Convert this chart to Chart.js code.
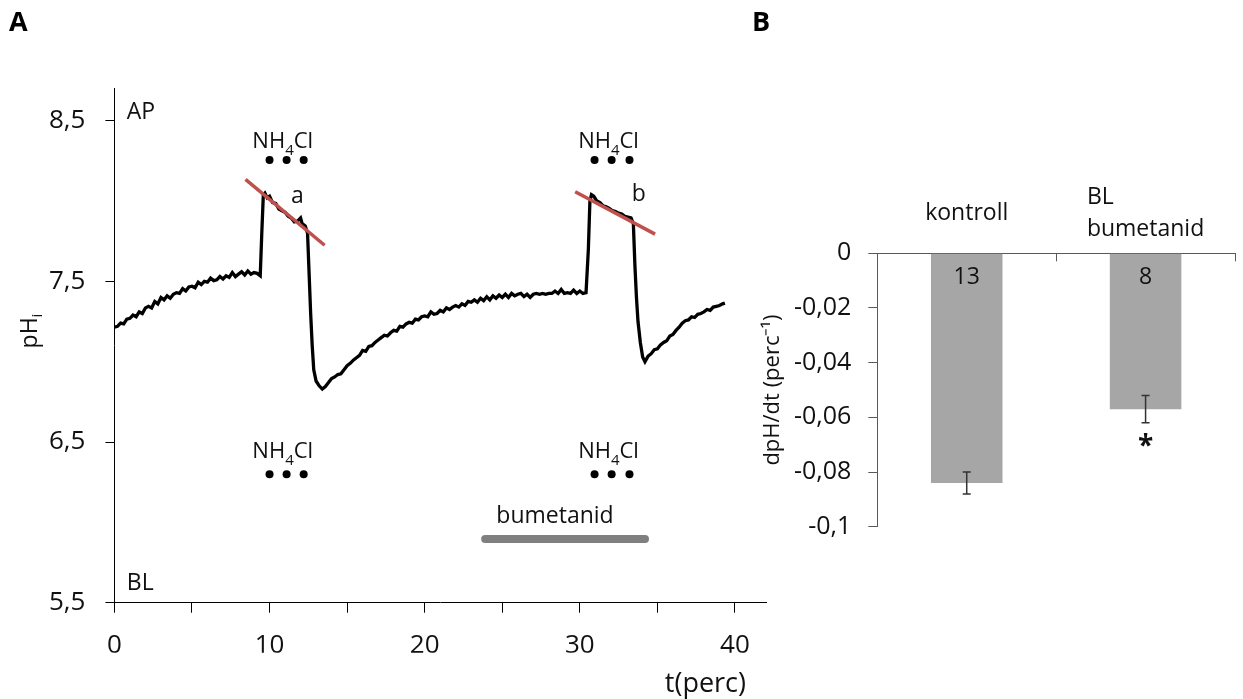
<!DOCTYPE html>
<html>
<head>
<meta charset="utf-8">
<script src="https://cdn.jsdelivr.net/npm/chart.js@4.4.1/dist/chart.umd.min.js"></script>
<style>
  body { margin: 0; background: #fff; }
  #wrap { position: relative; width: 1243px; height: 699px; overflow: hidden; }
  canvas { position: absolute; top: 0; }
  #phChart { left: 0; }
  #slopeChart { left: 740px; }
  .tag { position: absolute; top: 2px; font: bold 27px "Open Sans", sans-serif; color: #000; }
</style>
</head>
<body>
<div id="wrap">
  <canvas id="phChart" width="780" height="699"></canvas>
  <canvas id="slopeChart" width="503" height="699"></canvas>
  <div class="tag" style="left:9px">A</div>
  <div class="tag" style="left:752px">B</div>
</div>
<script>
// ---- panel A: intracellular pH trace ----
const traceT = [
  0, 0.2, 0.4, 0.6, 0.8, 1.0, 1.2, 1.4, 1.6, 1.8,
  2.0, 2.2, 2.4, 2.6, 2.8, 3.0, 3.2, 3.4, 3.6, 3.8,
  4.0, 4.2, 4.4, 4.6, 4.8, 5.0, 5.2, 5.4, 5.6, 5.8,
  6.0, 6.2, 6.4, 6.6, 6.8, 7.0, 7.2, 7.4, 7.6, 7.8,
  8.0, 8.2, 8.4, 8.6, 8.8, 9.0, 9.2, 9.4, 9.5, 9.6,
  9.7, 9.85, 10.0, 10.2, 10.4, 10.6, 10.8, 11.0, 11.2, 11.4,
  11.6, 11.8, 12.0, 12.1, 12.3, 12.45, 12.55, 12.65, 12.75, 12.85,
  13.0, 13.2, 13.4, 13.6, 13.8, 14.0, 14.2, 14.4, 14.6, 14.8,
  15.0, 15.2, 15.4, 15.6, 15.8, 16.0, 16.2, 16.4, 16.6, 16.8,
  17.0, 17.2, 17.4, 17.6, 17.8, 18.0, 18.2, 18.4, 18.6, 18.8,
  19.0, 19.2, 19.4, 19.6, 19.8, 20.0, 20.2, 20.4, 20.6, 20.8,
  21.0, 21.2, 21.4, 21.6, 21.8, 22.0, 22.2, 22.4, 22.6, 22.8,
  23.0, 23.2, 23.4, 23.6, 23.8, 24.0, 24.2, 24.4, 24.6, 24.8,
  25.0, 25.2, 25.4, 25.6, 25.8, 26.0, 26.2, 26.4, 26.6, 26.8,
  27.0, 27.2, 27.4, 27.6, 27.8, 28.0, 28.2, 28.4, 28.6, 28.8,
  29.0, 29.2, 29.4, 29.6, 29.8, 30.0, 30.2, 30.4, 30.55, 30.65,
  30.75, 30.9, 31.1, 31.3, 31.5, 31.7, 31.9, 32.1, 32.3, 32.5,
  32.7, 32.9, 33.1, 33.3, 33.45, 33.55, 33.65, 33.75, 33.9, 34.05,
  34.2, 34.4, 34.6, 34.8, 35.0, 35.2, 35.4, 35.6, 35.8, 36.0,
  36.2, 36.4, 36.6, 36.8, 37.0, 37.2, 37.4, 37.6, 37.8, 38.0,
  38.2, 38.4, 38.6, 38.8, 39.0, 39.2, 39.35
];
const tracePH = [
  7.215, 7.22, 7.24, 7.235, 7.265, 7.27, 7.29, 7.28, 7.31, 7.30,
  7.335, 7.345, 7.335, 7.375, 7.36, 7.40, 7.385, 7.41, 7.395, 7.42,
  7.43, 7.425, 7.455, 7.44, 7.465, 7.47, 7.46, 7.495, 7.48, 7.50,
  7.495, 7.52, 7.505, 7.51, 7.53, 7.515, 7.535, 7.525, 7.555, 7.53,
  7.545, 7.56, 7.54, 7.565, 7.545, 7.555, 7.55, 7.535, 7.80, 8.04,
  8.05, 8.02, 8.03, 7.99, 7.985, 7.95, 7.94, 7.93, 7.905, 7.895,
  7.87, 7.875, 7.895, 7.86, 7.845, 7.80, 7.55, 7.30, 7.10, 6.95,
  6.88, 6.85, 6.83, 6.845, 6.87, 6.895, 6.905, 6.92, 6.925, 6.95,
  6.975, 6.99, 7.01, 7.025, 7.04, 7.07, 7.065, 7.095, 7.10, 7.12,
  7.135, 7.15, 7.165, 7.16, 7.18, 7.195, 7.19, 7.22, 7.215, 7.235,
  7.245, 7.24, 7.265, 7.26, 7.28, 7.285, 7.28, 7.31, 7.295, 7.30,
  7.32, 7.31, 7.335, 7.325, 7.34, 7.35, 7.34, 7.36, 7.35, 7.375,
  7.37, 7.385, 7.37, 7.395, 7.38, 7.405, 7.385, 7.41, 7.395, 7.415,
  7.40, 7.42, 7.40, 7.425, 7.41, 7.42, 7.425, 7.405, 7.42, 7.40,
  7.42, 7.425, 7.42, 7.425, 7.42, 7.425, 7.425, 7.44, 7.425, 7.45,
  7.425, 7.43, 7.425, 7.445, 7.425, 7.44, 7.425, 7.43, 7.70, 8.00,
  8.04, 8.03, 8.00, 7.99, 7.97, 7.965, 7.955, 7.94, 7.935, 7.925,
  7.92, 7.905, 7.90, 7.895, 7.86, 7.60, 7.40, 7.25, 7.12, 7.03,
  7.00, 7.035, 7.05, 7.075, 7.08, 7.105, 7.12, 7.13, 7.16, 7.17,
  7.195, 7.215, 7.24, 7.255, 7.26, 7.28, 7.275, 7.295, 7.30, 7.31,
  7.325, 7.32, 7.34, 7.345, 7.35, 7.36, 7.365
];

// fitted recovery slopes a and b
const slopeAT = [8.45, 13.55];
const slopeAPH = [8.135, 7.725];
const slopeBT = [29.7, 34.85];
const slopeBPH = [8.058, 7.794];

// NH4Cl pulse markers (apical row, basolateral row)
const pulseT = [10.0, 11.1, 12.2, 30.95, 32.05, 33.2];
const pulseRowPH = [8.255, 6.30];

// bumetanide exposure
const bumetanidT = [23.9, 34.2];
const bumetanidPH = 5.897;

const phTicks = [5.5, 6.5, 7.5, 8.5];
const timeTicks = [0, 5, 10, 15, 20, 25, 30, 35, 40];

// ---- panel B: recovery rates ----
const groups = [['kontroll'], ['BL', 'bumetanid']];
const slopeMeans = [-0.084, -0.057];
const slopeSEM = [0.004, 0.005];
const cellCounts = ['13', '8'];
const significance = ['', '*'];
const rateTicks = [0, -0.02, -0.04, -0.06, -0.08, -0.1];

Chart.defaults.font.family = '"Open Sans", sans-serif';
Chart.defaults.color = '#111';
Chart.defaults.animation = false;

const FONT = '"Open Sans", sans-serif';
const pts = (xs, ys) => xs.map((x, i) => ({ x, y: Array.isArray(ys) ? ys[i] : ys }));
const comma = v => String(v).replace('.', ',');

// text labels placed in data units
const phLabels = [
  { text: 'AP', t: 0.8, ph: 8.55, align: 'left' },
  { text: 'BL', t: 0.8, ph: 5.62, align: 'left' },
  { text: 'a', t: 11.8, ph: 8.03, align: 'center' },
  { text: 'b', t: 33.8, ph: 8.04, align: 'center' },
  { text: 'bumetanid', t: 28.4, ph: 6.035, align: 'center' }
];
const chemLabels = [
  { t: 10.85, ph: 8.37 }, { t: 31.85, ph: 8.37 },
  { t: 10.85, ph: 6.44 }, { t: 31.85, ph: 6.44 }
];

function drawNH4Cl(ctx, cx, cy) {
  const big = '22px ' + FONT, small = '15px ' + FONT;
  ctx.font = big;
  const w1 = ctx.measureText('NH').width;
  const w3 = ctx.measureText('Cl').width;
  ctx.font = small;
  const w2 = ctx.measureText('4').width;
  let x = cx - (w1 + w2 + w3) / 2;
  ctx.textAlign = 'left';
  ctx.textBaseline = 'middle';
  ctx.font = big;
  ctx.fillText('NH', x, cy);
  x += w1;
  ctx.font = small;
  ctx.fillText('4', x, cy + 9);
  x += w2;
  ctx.font = big;
  ctx.fillText('Cl', x, cy);
}

const phText = {
  id: 'phText',
  afterDraw(chart) {
    const { ctx, scales: { x, y }, chartArea } = chart;
    ctx.save();
    ctx.fillStyle = '#111';
    ctx.font = '23px ' + FONT;
    ctx.textBaseline = 'middle';
    phLabels.forEach(l => {
      ctx.textAlign = l.align;
      ctx.fillText(l.text, x.getPixelForValue(l.t), y.getPixelForValue(l.ph));
    });
    chemLabels.forEach(l => drawNH4Cl(ctx, x.getPixelForValue(l.t), y.getPixelForValue(l.ph)));

    // axis titles
    ctx.font = '27px ' + FONT;
    ctx.textAlign = 'right';
    ctx.fillText('t(perc)', chartArea.right - 20, 684);

    ctx.translate(30, 331);
    ctx.rotate(-Math.PI / 2);
    ctx.textAlign = 'left';
    ctx.font = '23px ' + FONT;
    const wp = ctx.measureText('pH').width;
    ctx.font = '15px ' + FONT;
    const wi = ctx.measureText('i').width;
    ctx.font = '23px ' + FONT;
    ctx.fillText('pH', -(wp + wi) / 2, 0);
    ctx.font = '15px ' + FONT;
    ctx.fillText('i', -(wp + wi) / 2 + wp, 8);
    ctx.restore();
  }
};

new Chart(document.getElementById('phChart'), {
  type: 'scatter',
  data: {
    datasets: [
      { data: pts(slopeAT, slopeAPH), showLine: true, borderColor: '#c0504d', borderWidth: 3.5, pointRadius: 0 },
      { data: pts(slopeBT, slopeBPH), showLine: true, borderColor: '#c0504d', borderWidth: 3.5, pointRadius: 0 },
      { data: pts(traceT, tracePH), showLine: true, borderColor: '#000', borderWidth: 3.3, pointRadius: 0 },
      { data: pts(pulseT, pulseRowPH[0]), pointRadius: 4, backgroundColor: '#000', borderWidth: 0 },
      { data: pts(pulseT, pulseRowPH[1]), pointRadius: 4, backgroundColor: '#000', borderWidth: 0 },
      { data: pts(bumetanidT, bumetanidPH), showLine: true, borderColor: '#7f7f7f', borderWidth: 8,
        borderCapStyle: 'round', pointRadius: 0 }
    ]
  },
  options: {
    responsive: false,
    devicePixelRatio: 1,
    layout: { padding: { top: 88.6, right: 14, bottom: 46.3, left: 0 } },
    plugins: { legend: { display: false }, tooltip: { enabled: false } },
    scales: {
      x: {
        type: 'linear', min: 0, max: 42,
        afterBuildTicks: s => { s.ticks = timeTicks.map(v => ({ value: v })); },
        afterFit: s => { s.height = 50; },
        ticks: { callback: v => (v % 10 === 0 ? String(v) : ''), font: { size: 26 }, padding: 17, maxRotation: 0 },
        grid: { drawOnChartArea: false, tickLength: 10, color: '#000' },
        border: { color: '#000', width: 1 }
      },
      y: {
        type: 'linear', min: 5.5, max: 8.7,
        afterBuildTicks: s => { s.ticks = phTicks.map(v => ({ value: v })); },
        afterFit: s => { s.width = 114.4; },
        ticks: { callback: v => comma(v.toFixed(1)), font: { size: 26 }, padding: 20 },
        grid: { drawOnChartArea: false, tickLength: 9, color: '#000' },
        border: { color: '#000', width: 1 }
      }
    }
  },
  plugins: [phText]
});

const slopeText = {
  id: 'slopeText',
  afterDraw(chart) {
    const { ctx, scales: { x, y }, chartArea } = chart;
    ctx.save();
    ctx.fillStyle = '#111';
    ctx.font = '23px ' + FONT;
    ctx.textBaseline = 'middle';

    // category labels above the top axis, lines left-aligned in a centred block
    groups.forEach((lines, i) => {
      const cx = x.getPixelForValue(i);
      const w = Math.max(...lines.map(s => ctx.measureText(s).width));
      const lh = 32;
      const y0 = chartArea.top - 40 - (lines.length - 1) * lh / 2;
      ctx.textAlign = 'left';
      lines.forEach((s, j) => ctx.fillText(s, cx - w / 2, y0 + j * lh));
    });

    slopeMeans.forEach((m, i) => {
      const cx = x.getPixelForValue(i);
      // n inside the bar
      ctx.textAlign = 'center';
      ctx.font = '23px ' + FONT;
      ctx.fillText(cellCounts[i], cx, chartArea.top + 24);

      // error bar
      const yTop = y.getPixelForValue(m + slopeSEM[i]);
      const yBot = y.getPixelForValue(m - slopeSEM[i]);
      ctx.strokeStyle = '#333';
      ctx.lineWidth = 1.5;
      ctx.beginPath();
      ctx.moveTo(cx, yTop); ctx.lineTo(cx, yBot);
      ctx.moveTo(cx - 4, yTop); ctx.lineTo(cx + 4, yTop);
      ctx.moveTo(cx - 4, yBot); ctx.lineTo(cx + 4, yBot);
      ctx.stroke();

      if (significance[i]) {
        ctx.font = 'bold 28px ' + FONT;
        ctx.fillText(significance[i], cx, yBot + 24);
      }
    });
    ctx.restore();
  }
};

new Chart(document.getElementById('slopeChart'), {
  type: 'bar',
  data: {
    labels: groups,
    datasets: [{ data: slopeMeans, backgroundColor: '#a6a6a6', barPercentage: 0.4, categoryPercentage: 1 }]
  },
  options: {
    responsive: false,
    devicePixelRatio: 1,
    layout: { padding: { top: 213.3, right: 8, bottom: 172.3, left: 0 } },
    plugins: { legend: { display: false }, tooltip: { enabled: false } },
    scales: {
      x: {
        position: 'top',
        afterFit: s => { s.height = 40; },
        ticks: { display: false },
        grid: { offset: true, drawOnChartArea: false, tickLength: -8, color: '#595959' },
        border: { color: '#595959', width: 1 }
      },
      y: {
        min: -0.1, max: 0,
        afterBuildTicks: s => { s.ticks = rateTicks.map(v => ({ value: v })); },
        afterFit: s => { s.width = 137.3; },
        ticks: { callback: v => comma(+v.toFixed(2)), font: { size: 25 }, padding: 17 },
        grid: { drawOnChartArea: false, tickLength: 9, color: '#595959' },
        border: { color: '#595959', width: 1 },
        title: { display: true, text: 'dpH/dt (perc\u207B\u00B9)', font: { size: 22 }, padding: { top: 20, bottom: 0 } }
      }
    }
  },
  plugins: [slopeText]
});
</script>
</body>
</html>
